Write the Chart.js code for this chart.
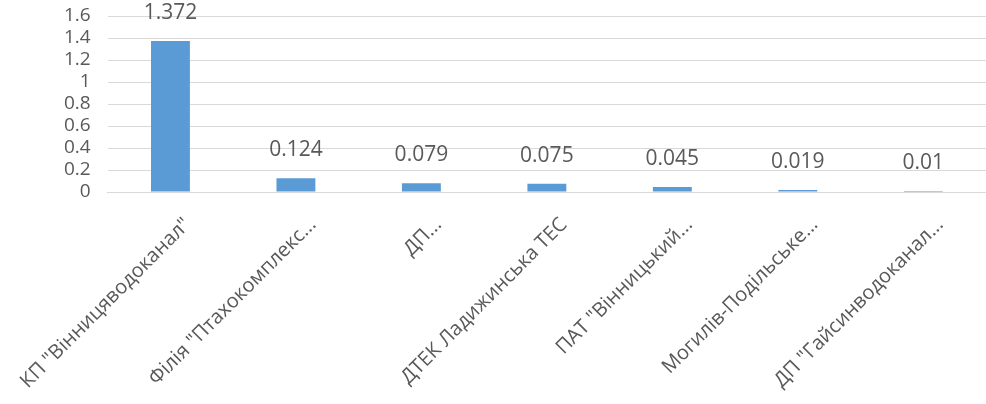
<!DOCTYPE html>
<html>
<head>
<meta charset="utf-8">
<script src="https://cdn.jsdelivr.net/npm/chart.js@4"></script>
<style>
  html, body { margin: 0; padding: 0; background: #fff; }
  #wrap { width: 986px; height: 404px; }
</style>
</head>
<body>
<div id="wrap"><canvas id="myChart"></canvas></div>
<script>
// categories (as shown, truncated in the source chart)
var labels = [
    'КП "Вінницяводоканал"',
    'Філія "Птахокомплекс...',
    'ДП...',
    'ДТЕК Ладижинська ТЕС',
    'ПАТ "Вінницький...',
    'Могилів-Подільське...',
    'ДП "Гайсинводоканал...'
];
var values = [1.372, 0.124, 0.079, 0.075, 0.045, 0.019, 0.01];
var yTicks = [0, 0.2, 0.4, 0.6, 0.8, 1, 1.2, 1.4, 1.6];

var textColor = '#595959';
var fontFamily = '"Open Sans", "Noto Sans", sans-serif';

// draws the value above each bar
var valueLabels = {
    id: 'valueLabels',
    afterDatasetsDraw: function(chart) {
        var c = chart.ctx;
        var meta = chart.getDatasetMeta(0);
        c.save();
        c.fillStyle = textColor;
        c.font = '21px ' + fontFamily;
        c.textAlign = 'center';
        c.textBaseline = 'alphabetic';
        meta.data.forEach(function(bar, i) {
            c.fillText(String(values[i]), bar.x, bar.y - 22);
        });
        c.restore();
    }
};

var ctx = document.getElementById('myChart').getContext('2d');
var chart = new Chart(ctx, {
    type: 'bar',
    data: {
        labels: labels,
        datasets: [{
            label: 'values',
            backgroundColor: '#5B9BD5',
            borderWidth: 0,
            barPercentage: 0.31,
            categoryPercentage: 1,
            data: values
        }]
    },
    options: {
        responsive: true,
        maintainAspectRatio: false,
        animation: false,
        layout: { padding: { left: 47, top: 16, right: 0, bottom: 0 } },
        plugins: {
            legend: { display: false },
            tooltip: { enabled: false }
        },
        scales: {
            x: {
                grid: { display: false },
                border: { color: '#d9d9d9' },
                ticks: {
                    color: textColor,
                    font: { size: 20, family: fontFamily },
                    minRotation: 45,
                    maxRotation: 45,
                    autoSkip: false,
                    labelOffset: 17,
                    padding: 13
                },
                afterFit: function(scale) {
                    scale.height = 212;
                    scale.paddingLeft = 0;
                    scale.paddingRight = 0;
                }
            },
            y: {
                min: 0,
                max: 1.6,
                border: { display: false },
                grid: { color: '#d9d9d9', drawTicks: false },
                afterBuildTicks: function(scale) {
                    scale.ticks = yTicks.map(function(v) { return { value: v }; });
                },
                afterFit: function(scale) {
                    scale.paddingTop = 0;
                    scale.paddingBottom = 0;
                },
                ticks: {
                    color: textColor,
                    font: { size: 19, family: fontFamily },
                    padding: 17,
                    autoSkip: false,
                    callback: function(v) { return String(Number(v.toFixed(1))); }
                }
            }
        }
    },
    plugins: [valueLabels]
});
</script>
</body>
</html>
